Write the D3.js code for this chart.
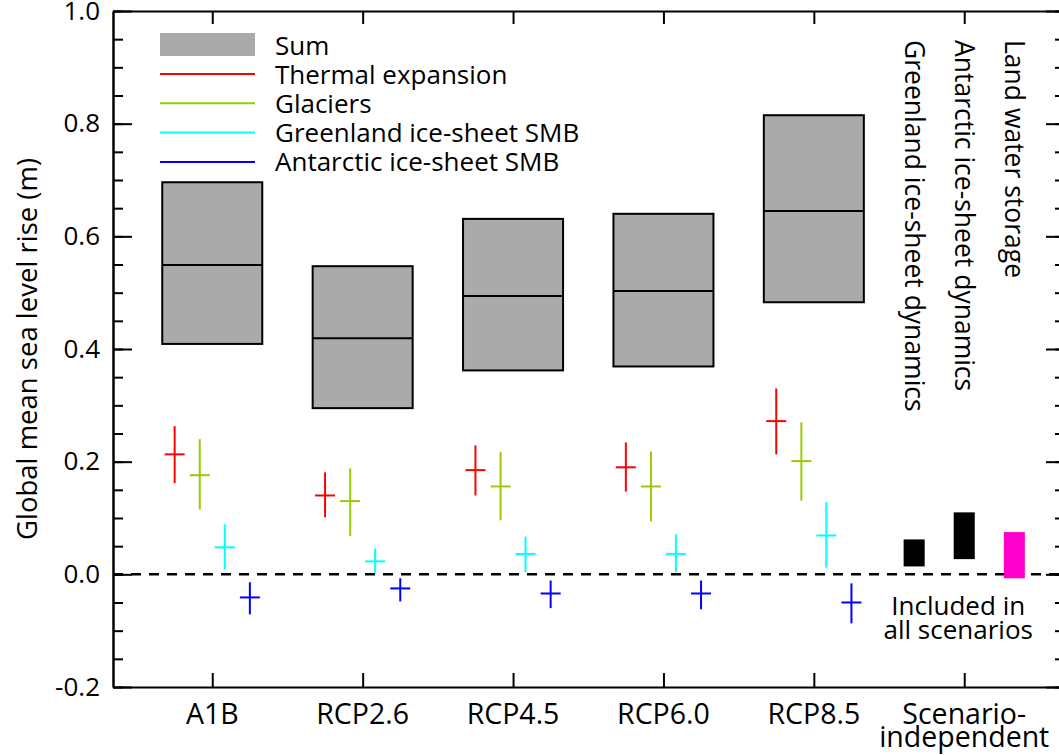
<!DOCTYPE html>
<html>
<head>
<meta charset="utf-8">
<script src="https://cdn.jsdelivr.net/npm/d3@7"></script>
<style>
  body { margin: 0; background: #fff; }
  text { font-family: "Open Sans", sans-serif; fill: #000; }
</style>
</head>
<body>
<script>
// scenarios along the x axis
const scenarios = ['A1B', 'RCP2.6', 'RCP4.5', 'RCP6.0', 'RCP8.5'];
const xLabels = [['A1B'], ['RCP2.6'], ['RCP4.5'], ['RCP6.0'], ['RCP8.5'], ['Scenario-', 'independent']];

// sum of contributions (m): low, median, high
const sumLow = [0.409, 0.295, 0.362, 0.369, 0.483];
const sumMid = [0.549, 0.419, 0.494, 0.503, 0.645];
const sumHigh = [0.696, 0.547, 0.631, 0.640, 0.815];

// components: [low, median, high] per scenario
const thermal = [[0.162, 0.213, 0.263], [0.101, 0.140, 0.181], [0.140, 0.185, 0.229], [0.147, 0.190, 0.234], [0.213, 0.272, 0.330]];
const glaciers = [[0.115, 0.176, 0.240], [0.068, 0.130, 0.188], [0.096, 0.156, 0.217], [0.094, 0.156, 0.218], [0.131, 0.201, 0.270]];
const greenlandSMB = [[0.009, 0.048, 0.089], [0.002, 0.023, 0.046], [0.004, 0.036, 0.067], [0.004, 0.036, 0.071], [0.012, 0.069, 0.128]];
const antarcticSMB = [[-0.071, -0.041, -0.014], [-0.048, -0.025, -0.007], [-0.060, -0.034, -0.011], [-0.062, -0.034, -0.011], [-0.087, -0.050, -0.016]];

// scenario-independent contributions: [low, high]
const indepNames = ['Greenland ice-sheet dynamics', 'Antarctic ice-sheet dynamics', 'Land water storage'];
const indepRange = [[0.014, 0.062], [0.027, 0.110], [-0.007, 0.075]];
const indepColors = ['#000000', '#000000', '#ff00cc'];

const legendNames = ['Thermal expansion', 'Glaciers', 'Greenland ice-sheet SMB', 'Antarctic ice-sheet SMB'];
const compColors = ['#ff0000', '#99cc00', '#00ffff', '#0000ff'];
const components = [thermal, glaciers, greenlandSMB, antarcticSMB];
const compOffset = [-0.25, -0.083, 0.083, 0.25];

const width = 1059, height = 755;
const plot = { left: 113, right: 1065, top: 11, bottom: 687 };

const svg = d3.select('body')
  .append('svg')
  .attr('width', width)
  .attr('height', height);

const x = d3.scaleLinear().domain([-0.66, 5.67]).range([plot.left, plot.right]);
const y = d3.scaleLinear().domain([-0.2, 1.0]).range([plot.bottom, plot.top]);

// zero line
svg.append('line')
  .attr('x1', plot.left).attr('x2', plot.right)
  .attr('y1', y(0)).attr('y2', y(0))
  .attr('stroke', '#000')
  .attr('stroke-width', 2.5)
  .attr('stroke-dasharray', '10,8');

// sum boxes
const boxW = 0.665;
const boxes = svg.append('g')
  .selectAll('g')
  .data(scenarios)
  .enter()
  .append('g');

boxes.append('rect')
  .attr('x', (d, i) => x(i - boxW / 2))
  .attr('width', (d, i) => x(i + boxW / 2) - x(i - boxW / 2))
  .attr('y', (d, i) => y(sumHigh[i]))
  .attr('height', (d, i) => y(sumLow[i]) - y(sumHigh[i]))
  .attr('fill', '#aaaaaa')
  .attr('stroke', '#000')
  .attr('stroke-width', 2);

boxes.append('line')
  .attr('x1', (d, i) => x(i - boxW / 2))
  .attr('x2', (d, i) => x(i + boxW / 2))
  .attr('y1', (d, i) => y(sumMid[i]))
  .attr('y2', (d, i) => y(sumMid[i]))
  .attr('stroke', '#000')
  .attr('stroke-width', 2);

// component crosses
const armHalf = 10;
components.forEach((comp, c) => {
  const g = svg.append('g')
    .attr('stroke', compColors[c])
    .attr('stroke-width', 2);

  g.selectAll('.v')
    .data(comp)
    .enter()
    .append('line')
    .attr('x1', (d, i) => x(i + compOffset[c]))
    .attr('x2', (d, i) => x(i + compOffset[c]))
    .attr('y1', (d) => y(d[2]))
    .attr('y2', (d) => y(d[0]));

  g.selectAll('.h')
    .data(comp)
    .enter()
    .append('line')
    .attr('x1', (d, i) => x(i + compOffset[c]) - armHalf)
    .attr('x2', (d, i) => x(i + compOffset[c]) + armHalf)
    .attr('y1', (d) => y(d[1]))
    .attr('y2', (d) => y(d[1]));
});

// scenario-independent bars
const indepOffset = [-0.333, 0, 0.333];
const barW = 0.14;
svg.append('g')
  .selectAll('rect')
  .data(indepRange)
  .enter()
  .append('rect')
  .attr('x', (d, i) => x(5 + indepOffset[i] - barW / 2))
  .attr('width', (d, i) => x(5 + indepOffset[i] + barW / 2) - x(5 + indepOffset[i] - barW / 2))
  .attr('y', (d) => y(d[1]))
  .attr('height', (d) => y(d[0]) - y(d[1]))
  .attr('fill', (d, i) => indepColors[i]);

svg.append('g')
  .selectAll('text')
  .data(indepNames)
  .enter()
  .append('text')
  .attr('transform', (d, i) => 'translate(' + (x(5 + indepOffset[i]) - 9) + ',40) rotate(90)')
  .style('font-size', '26.5px')
  .text((d) => d);

svg.append('text')
  .attr('x', x(5) - 6)
  .attr('y', 615)
  .style('font-size', '26px')
  .style('text-anchor', 'middle')
  .selectAll('tspan')
  .data(['Included in', 'all scenarios'])
  .enter()
  .append('tspan')
  .attr('x', x(5) - 6)
  .attr('dy', (d, i) => i ? 24 : 0)
  .text((d) => d);

// axes
const majorTicks = d3.range(-0.2, 1.0001, 0.2);
const minorTicks = d3.range(-0.2, 1.0001, 0.05);
const tickFmt = (d) => d3.format('.1f')(d).replace('\u2212', '-');

function styleAxis(g) {
  g.selectAll('path, line').attr('stroke', '#000').attr('stroke-width', 2);
  g.selectAll('text').style('font-family', '"Open Sans", sans-serif').style('fill', '#000');
}

svg.append('g')
  .attr('transform', 'translate(' + plot.left + ',0)')
  .call(d3.axisLeft(y).tickValues(minorTicks).tickSize(-10).tickSizeOuter(0).tickFormat(''))
  .call(styleAxis);

svg.append('g')
  .attr('transform', 'translate(' + plot.left + ',0)')
  .call(d3.axisLeft(y).tickValues(majorTicks).tickSize(-19).tickSizeOuter(0).tickPadding(13).tickFormat(tickFmt))
  .call(styleAxis)
  .call((g) => g.selectAll('text').style('font-size', '26px'));

svg.append('g')
  .attr('transform', 'translate(' + plot.right + ',0)')
  .call(d3.axisRight(y).tickValues(minorTicks).tickSize(-10).tickSizeOuter(0).tickFormat(''))
  .call(styleAxis);

svg.append('g')
  .attr('transform', 'translate(' + plot.right + ',0)')
  .call(d3.axisRight(y).tickValues(majorTicks).tickSize(-19).tickSizeOuter(0).tickFormat(''))
  .call(styleAxis);

svg.append('g')
  .attr('transform', 'translate(0,' + plot.bottom + ')')
  .call(d3.axisBottom(x).tickValues(d3.range(0, 6)).tickSize(-14).tickSizeOuter(0).tickFormat(''))
  .call(styleAxis);

svg.append('g')
  .attr('transform', 'translate(0,' + plot.top + ')')
  .call(d3.axisTop(x).tickValues(d3.range(0, 6)).tickSize(-13).tickSizeOuter(0).tickFormat(''))
  .call(styleAxis);

// category labels
svg.append('g')
  .selectAll('text')
  .data(xLabels)
  .enter()
  .append('text')
  .attr('x', (d, i) => x(i))
  .attr('y', 724)
  .style('font-size', '28.5px')
  .style('text-anchor', 'middle')
  .selectAll('tspan')
  .data((d) => d)
  .enter()
  .append('tspan')
  .attr('x', function () { return d3.select(this.parentNode).attr('x'); })
  .attr('dy', (d, i) => i ? 23 : 0)
  .text((d) => d);

// y label
svg.append('text')
  .attr('transform', 'translate(37,349) rotate(-90)')
  .style('font-size', '27.5px')
  .style('text-anchor', 'middle')
  .text('Global mean sea level rise (m)');

// legend
const legend = svg.append('g');
legend.append('rect')
  .attr('x', 160).attr('y', 33)
  .attr('width', 95).attr('height', 23)
  .attr('fill', '#aaaaaa');
legend.append('text')
  .attr('x', 275).attr('y', 55)
  .style('font-size', '26px')
  .text('Sum');

const legendRows = legend.selectAll('.row')
  .data(legendNames)
  .enter()
  .append('g')
  .attr('transform', (d, i) => 'translate(0,' + (74 + i * 29.3) + ')');

legendRows.append('line')
  .attr('x1', 160).attr('x2', 255)
  .attr('stroke', (d, i) => compColors[i])
  .attr('stroke-width', 2);

legendRows.append('text')
  .attr('x', 275)
  .attr('y', 9.5)
  .style('font-size', '26px')
  .text((d) => d);
</script>
</body>
</html>
